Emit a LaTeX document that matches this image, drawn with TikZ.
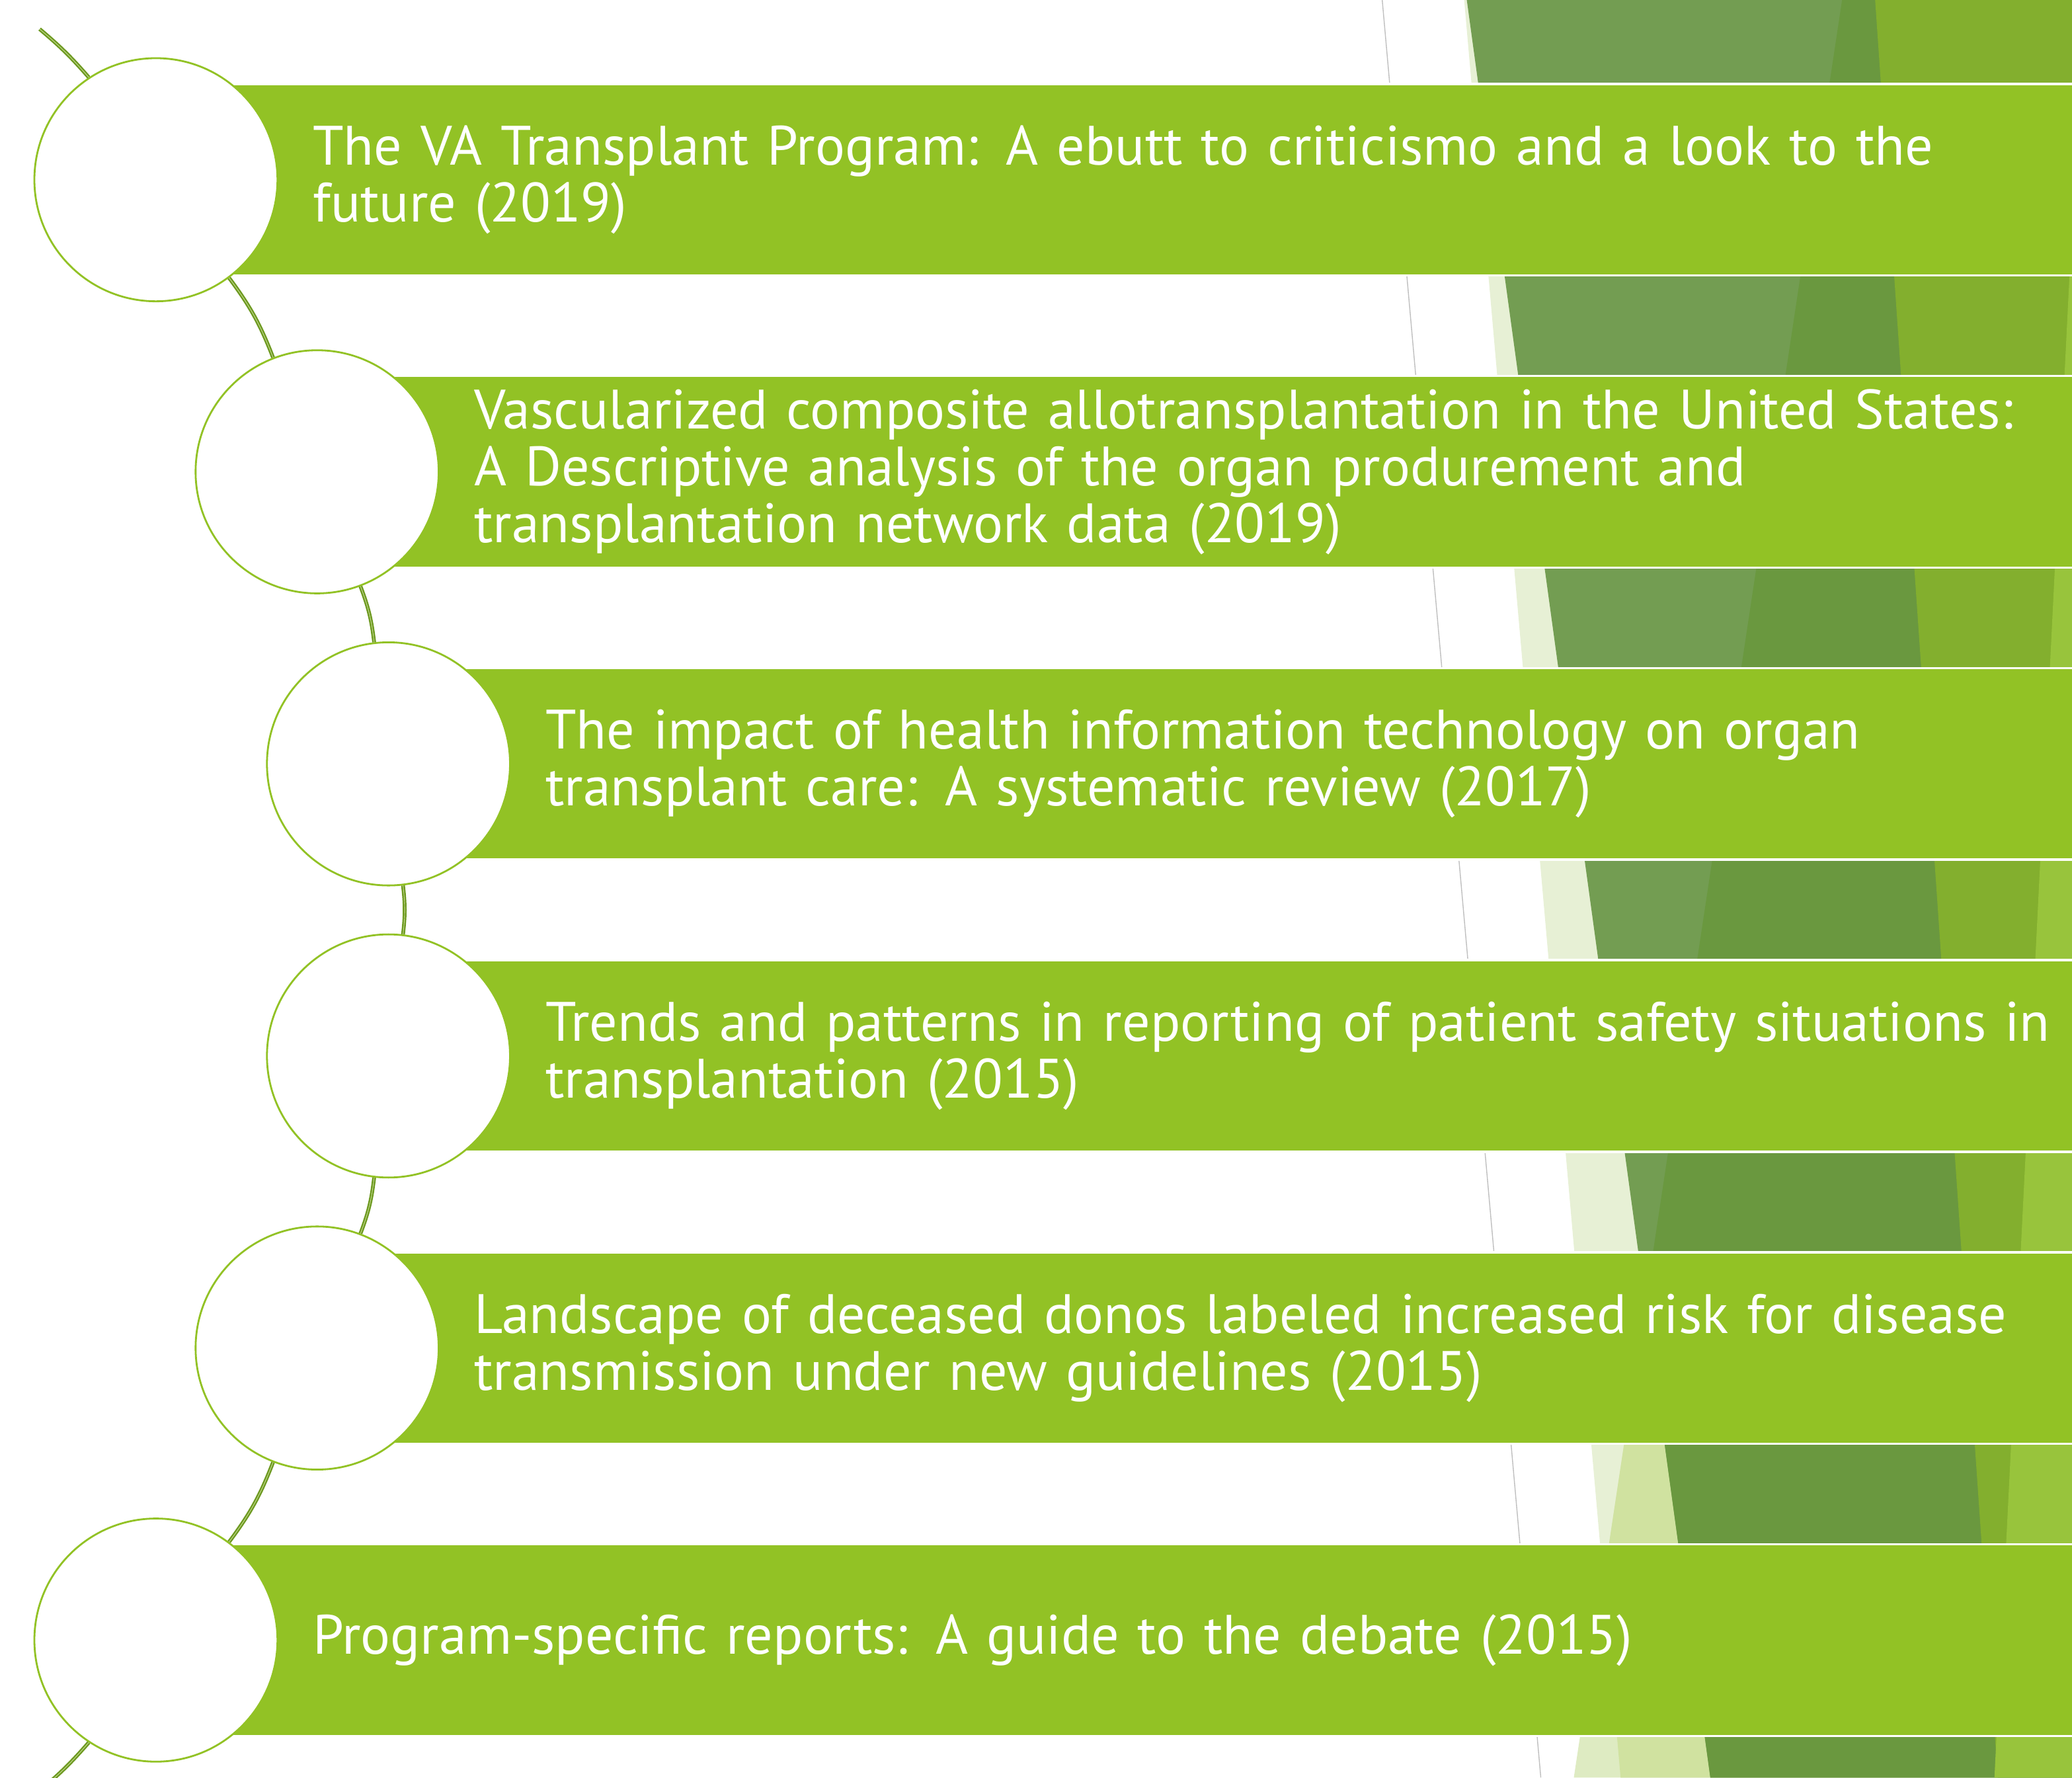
\documentclass[tikz,border=0pt]{standalone}
\usepackage{fontspec}
\setmainfont{PT Sans}
\usepackage{xcolor}
\usetikzlibrary{positioning}
\definecolor{leaf}{HTML}{92C225}
\definecolor{stem}{HTML}{6E9A22}
\definecolor{stemcore}{HTML}{C9DE95}
\definecolor{palefacet}{HTML}{E7F0D5}
\definecolor{softfacet}{HTML}{DEEBC2}
\definecolor{midfacet}{HTML}{D0E2A0}
\definecolor{mossfacet}{HTML}{739D52}
\definecolor{darkfacet}{HTML}{6A983F}
\definecolor{olivefacet}{HTML}{83AF2E}
\definecolor{brightfacet}{HTML}{98C43C}
\begin{document}
\begin{tikzpicture}[x=0.02cm, y=-0.02cm,
		stage/.style={circle, draw=leaf, line width=0.8pt, fill=white, minimum size=3.68cm, inner sep=0pt},
		banner/.style={fill=leaf, draw=white, line width=1pt, anchor=west, minimum height=2.9cm,
			inner xsep=2.36cm, inner ysep=0pt, text width=30cm, align=left, text=white,
			font=\fontsize{23.9}{24.5}\selectfont},
		spine/.style={draw=stem, double=stemcore, double distance=0.25pt, line width=0.7pt}]
	\useasboundingbox (0,0) rectangle (1568,1345);
	% facets on the right
	\fill[palefacet] (1108,0) -- (1568,0) -- (1568,1345) -- (1226.4,1345) -- cycle;
	\fill[softfacet] (1394,0) -- (1568,0) -- (1568,1345) -- (1191,1345) -- cycle;
	\fill[midfacet] (1394,0) -- (1568,0) -- (1568,1345) -- (1226.4,1345) -- (1213.3,1196.7) -- cycle;
	\fill[mossfacet] (1110,0) -- (1568,0) -- (1568,1345) -- (1294.3,1345) -- cycle;
	\fill[darkfacet] (1394,0) -- (1568,0) -- (1568,1345) -- (1294.3,1345) -- (1245.1,986.1) -- cycle;
	\fill[olivefacet] (1419,0) -- (1568,0) -- (1568,1345) -- (1511.8,1345) -- cycle;
	\fill[brightfacet] (1568,170) -- (1568,1345) -- (1509.3,1345) -- cycle;
	\draw[black!25, line width=0.4pt] (1046,0) -- (1166,1345);
	% banners and circles
	\foreach \i/\cx/\cy/\txt in {
			1/118/136/{The VA Transplant Program: A ebutt to criticismo and a look to the\\future (2019)},
			2/240/357/{Vascularized composite allotransplantation in the United States:\\A Descriptive analysis of the organ produrement and\\transplantation network data (2019)},
			3/294/578/{The impact of health information technology on organ\\transplant care: A systematic review (2017)},
			4/294/799/{Trends and patterns in reporting of patient safety situations in\\transplantation (2015)},
			5/240/1020/{Landscape of deceased donos labeled increased risk for disease\\transmission under new guidelines (2015)},
			6/118/1241/{Program-specific reports: A guide to the debate (2015)}}{
		\node[banner] (b\i) at (\cx,\cy) {\txt};
		\node[stage] (c\i) at (\cx,\cy) {};
	}
	% arc through the circles
	\coordinate (top) at (30,22);
	\coordinate (bottom) at (30,1355);
	\draw[spine] (top) to[bend left=4.4] (c1);
	\draw[spine] (c1) to[bend left=7.8] (c2);
	\draw[spine] (c2) to[bend left=7] (c3);
	\draw[spine] (c3) to[bend left=6.8] (c4);
	\draw[spine] (c4) to[bend left=7] (c5);
	\draw[spine] (c5) to[bend left=7.8] (c6);
	\draw[spine] (c6) to[bend left=4.4] (bottom);
\end{tikzpicture}
\end{document}
